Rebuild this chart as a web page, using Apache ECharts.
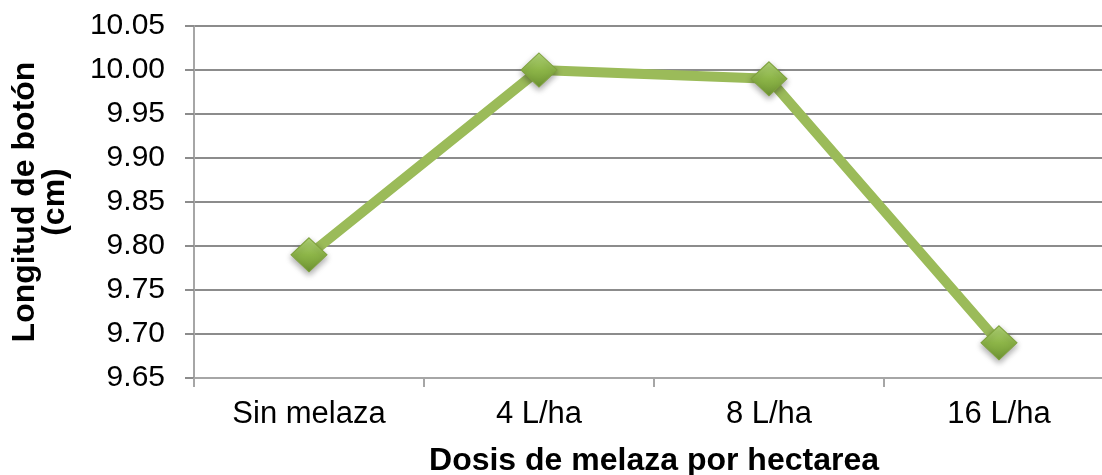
<!DOCTYPE html>
<html lang="es">
<head>
  <meta charset="UTF-8" />
  <title>Longitud de botón</title>
  <script src="https://cdn.jsdelivr.net/npm/echarts@6/dist/echarts.min.js"></script>
  <style>
    body { margin: 0; background: #ffffff; overflow: hidden; }
    #chart { width: 1102px; height: 475px; }
  </style>
</head>
<body>
  <div id="chart"></div>
  <script>
    const categories = ['Sin melaza', '4 L/ha', '8 L/ha', '16 L/ha'];
    const longitud = [9.79, 10.00, 9.99, 9.69];

    const font = '"Liberation Sans", Arial, sans-serif';
    const chart = echarts.init(document.getElementById('chart'));
    chart.setOption({
      animation: false,
      // the source picture is cropped on the right, so the plot runs past the edge
      grid: { left: 194, right: -12, top: 26, bottom: 97, outerBoundsMode: 'none', containLabel: false },
      xAxis: {
        type: 'category',
        data: categories,
        boundaryGap: true,
        name: 'Dosis de melaza por hectarea',
        nameLocation: 'middle',
        nameGap: 67,
        nameTextStyle: { fontFamily: font, fontSize: 32, fontWeight: 'bold', color: '#000' },
        axisLine: { lineStyle: { color: '#a6a6a6', width: 2 } },
        axisTick: { show: true, length: 9, lineStyle: { color: '#a6a6a6', width: 2 } },
        axisLabel: { fontFamily: font, fontSize: 31, color: '#000', margin: 21 }
      },
      yAxis: {
        type: 'value',
        min: 9.65,
        max: 10.05,
        interval: 0.05,
        name: 'Longitud de botón\n(cm)',
        nameLocation: 'middle',
        nameGap: 124,
        nameRotate: 90,
        nameTextStyle: { fontFamily: font, fontSize: 32, fontWeight: 'bold', color: '#000', lineHeight: 30 },
        axisLine: { show: true, lineStyle: { color: '#a6a6a6', width: 2 } },
        axisTick: { show: true, length: 9, inside: false, lineStyle: { color: '#8c8c8c', width: 2 } },
        splitLine: { lineStyle: { color: '#8c8c8c', width: 2 } },
        axisLabel: {
          fontFamily: font, fontSize: 30, color: '#000', margin: 29,
          formatter: v => v.toFixed(2)
        }
      },
      series: [{
        type: 'line',
        data: longitud,
        lineStyle: { color: '#9bbb59', width: 10 },
        symbol: 'diamond',
        symbolSize: [36, 34],
        itemStyle: {
          color: new echarts.graphic.LinearGradient(0, 0, 0, 1, [
            { offset: 0, color: '#b5d97a' },
            { offset: 0.5, color: '#8db548' },
            { offset: 1, color: '#6e9433' }
          ]),
          borderColor: '#7fa23d',
          borderWidth: 1,
          shadowColor: 'rgba(0,0,0,0.35)',
          shadowBlur: 6,
          shadowOffsetY: 3
        }
      }]
    });
  </script>
</body>
</html>
